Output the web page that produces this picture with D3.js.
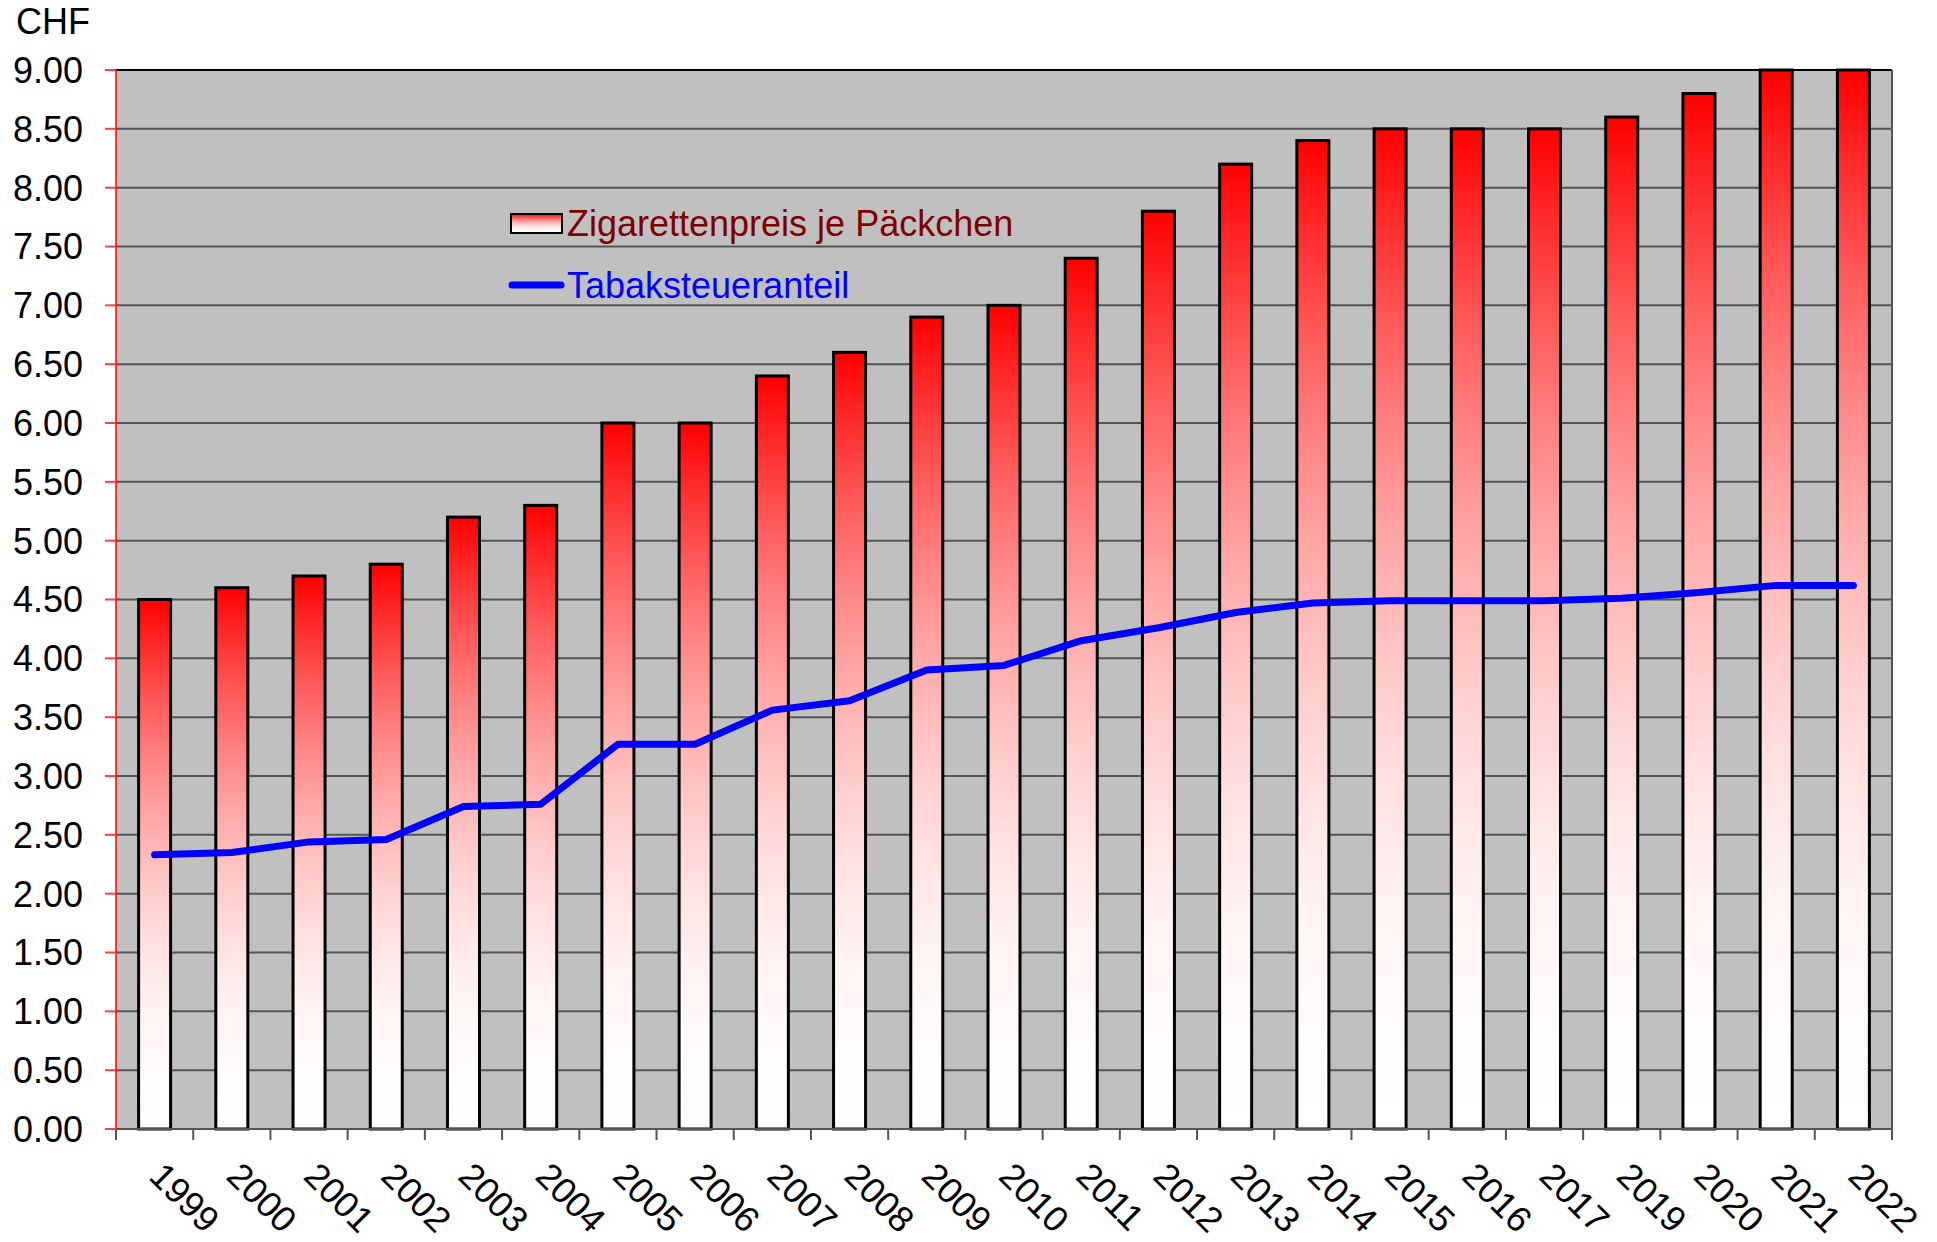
<!DOCTYPE html>
<html>
<head>
<meta charset="utf-8">
<script src="https://cdn.jsdelivr.net/npm/d3@7"></script>
<style>
  body { margin: 0; background: #fff; }
  svg { display: block; font-family: "Liberation Sans", Arial, sans-serif; }
</style>
</head>
<body>
<div id="chart"></div>
<script>
// data
var years = ["1999","2000","2001","2002","2003","2004","2005","2006","2007","2008","2009","2010",
             "2011","2012","2013","2014","2015","2016","2017","2019","2020","2021","2022"];
var preis = [4.5,4.6,4.7,4.8,5.2,5.3,6.0,6.0,6.4,6.6,6.9,7.0,7.4,7.8,8.2,8.4,8.5,8.5,8.5,8.6,8.8,9.0,9.0];
var steuer = [2.33,2.35,2.44,2.46,2.74,2.76,3.27,3.27,3.56,3.64,3.90,3.94,4.15,4.26,4.39,4.47,4.49,4.49,4.49,4.51,4.56,4.62,4.62];
var yTicks = [0,0.5,1,1.5,2,2.5,3,3.5,4,4.5,5,5.5,6,6.5,7,7.5,8,8.5,9];

var W = 1937, H = 1242;
var pLeft = 116, pRight = 1892, pTop = 70, pBottom = 1129;

var svg = d3.select("#chart").append("svg").attr("width", W).attr("height", H);

var x = d3.scaleBand().domain(years).range([pLeft, pRight]).paddingInner(0).paddingOuter(0);
var y = d3.scaleLinear().domain([0, 9]).range([pBottom, pTop]);

// bar gradient, red on top fading to white
var defs = svg.append("defs");
var grad = defs.append("linearGradient").attr("id", "barGrad")
  .attr("x1", 0).attr("y1", 0).attr("x2", 0).attr("y2", 1);
d3.range(0, 1.0001, 0.1).forEach(function (t) {
  var f = 1 - (1 - t) * (1 - t);
  var g = Math.round(255 * f);
  grad.append("stop").attr("offset", t).attr("stop-color", "rgb(255," + g + "," + g + ")");
});

// plot background
svg.append("rect").attr("x", pLeft).attr("y", pTop).attr("width", pRight - pLeft).attr("height", pBottom - pTop)
  .style("fill", "#c0c0c0");

// gridlines
svg.selectAll(".grid").data(yTicks.slice(1))
  .join("line")
  .attr("class", "grid")
  .attr("x1", pLeft).attr("x2", pRight)
  .attr("y1", function (d) { return y(d); }).attr("y2", function (d) { return y(d); })
  .style("stroke", "#555").style("stroke-width", 2);

// frame
svg.append("line").attr("x1", pLeft).attr("x2", pRight).attr("y1", pTop).attr("y2", pTop)
  .style("stroke", "#000").style("stroke-width", 2);
svg.append("line").attr("x1", pRight).attr("x2", pRight).attr("y1", pTop).attr("y2", pBottom)
  .style("stroke", "#555").style("stroke-width", 2);

// bars
var bw = 32;
svg.selectAll(".bar").data(preis)
  .join("rect")
  .attr("class", "bar")
  .attr("x", function (d, i) { return x(years[i]) + x.bandwidth() / 2 - bw / 2; })
  .attr("y", function (d) { return y(d); })
  .attr("width", bw)
  .attr("height", function (d) { return pBottom - y(d); })
  .style("fill", "url(#barGrad)")
  .style("stroke", "#000").style("stroke-width", 3);

// x axis
svg.append("line").attr("x1", pLeft).attr("x2", pRight).attr("y1", pBottom).attr("y2", pBottom)
  .style("stroke", "#555").style("stroke-width", 2);
var bounds = years.map(function (d) { return x(d); }).concat([pRight]);
svg.selectAll(".xtick").data(bounds)
  .join("line")
  .attr("class", "xtick")
  .attr("x1", function (d) { return d; }).attr("x2", function (d) { return d; })
  .attr("y1", pBottom).attr("y2", pBottom + 11)
  .style("stroke", "#555").style("stroke-width", 2);

svg.selectAll(".xlab").data(years)
  .join("text")
  .attr("class", "xlab")
  .attr("transform", function (d) {
    var cx = x(d) + x.bandwidth() / 2 - 7;
    return "translate(" + cx + "," + 1178 + ") rotate(45)";
  })
  .style("font-size", "36px")
  .style("fill", "#000")
  .text(function (d) { return d; });

// y axis
svg.append("line").attr("x1", pLeft).attr("x2", pLeft).attr("y1", pTop).attr("y2", pBottom)
  .style("stroke", "#ff0000").style("stroke-width", 1.5);
svg.selectAll(".ytick").data(yTicks)
  .join("line")
  .attr("class", "ytick")
  .attr("x1", pLeft - 11).attr("x2", pLeft)
  .attr("y1", function (d) { return y(d); }).attr("y2", function (d) { return y(d); })
  .style("stroke", "#ff4040").style("stroke-width", 2);
svg.selectAll(".ylab").data(yTicks)
  .join("text")
  .attr("class", "ylab")
  .attr("x", 83)
  .attr("y", function (d) { return y(d); })
  .attr("dy", "0.36em")
  .attr("text-anchor", "end")
  .style("font-size", "36px")
  .text(function (d) { return d3.format(".2f")(d); });

svg.append("text").attr("x", 16).attr("y", 34).style("font-size", "36px").text("CHF");

// tax line
var line = d3.line()
  .x(function (d, i) { return x(years[i]) + x.bandwidth() / 2; })
  .y(function (d) { return y(d); });
svg.append("path").datum(steuer)
  .attr("d", line)
  .style("fill", "none")
  .style("stroke", "#0000ff")
  .style("stroke-width", 7)
  .style("stroke-linecap", "round")
  .style("stroke-linejoin", "round");

// legend
svg.append("rect").attr("x", 511).attr("y", 214).attr("width", 51).attr("height", 19)
  .style("fill", "url(#barGrad)").style("stroke", "#000").style("stroke-width", 2);
svg.append("text").attr("x", 567).attr("y", 236).style("font-size", "36px").style("fill", "#800000")
  .text("Zigarettenpreis je Päckchen");
svg.append("line").attr("x1", 512).attr("x2", 561).attr("y1", 285).attr("y2", 285)
  .style("stroke", "#0000ff").style("stroke-width", 7).style("stroke-linecap", "round");
svg.append("text").attr("x", 567).attr("y", 298).style("font-size", "36px").style("fill", "#0000ff")
  .text("Tabaksteueranteil");
</script>
</body>
</html>
